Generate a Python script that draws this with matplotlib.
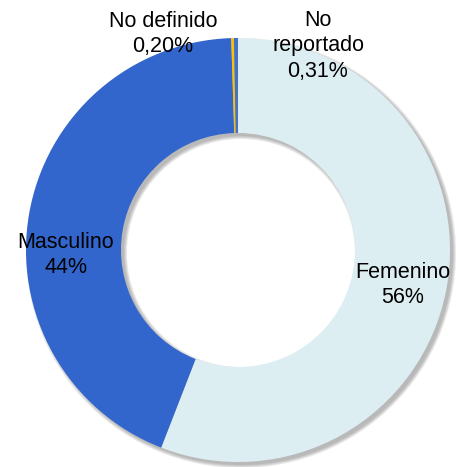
import matplotlib.pyplot as plt

plt.rcParams['font.family'] = ['Liberation Sans', 'DejaVu Sans']

categories = ["Femenino", "Masculino", "No definido", "No reportado"]
values = [55.90, 43.59, 0.20, 0.31]
pct_labels = ["56%", "44%", "0,20%", "0,31%"]
colors = ["#DDEEF3", "#3366CC", "#FFC000", "#4472C4"]

R_OUT = 212
R_IN = 117
CX, CY = 238, 217

fig = plt.figure(figsize=(4.57, 4.67), dpi=100)
ax = fig.add_axes([0, 0, 1, 1])

# blurred drop shadow, offset down-right
for d in [0, 1, 2, 3]:
    ax.pie([1], radius=R_OUT + d, center=(CX + 3, CY - 3), colors=["#555555"],
           wedgeprops=dict(width=R_OUT - R_IN + 2 * d, alpha=0.12, linewidth=0))

ax.pie(values, radius=R_OUT, center=(CX, CY), colors=colors, startangle=90,
       counterclock=False, wedgeprops=dict(width=R_OUT - R_IN, linewidth=0))

# pie() resets the limits, so set them afterwards
ax.set_xlim(0, 457)
ax.set_ylim(0, 467)
ax.set_aspect("equal")
ax.axis("off")

label_pos = {
    "Femenino": (403, 182),
    "Masculino": (66, 212),
    "No definido": (163, 433),
    "No reportado": (318, 421),
}
for cat, pct in zip(categories, pct_labels):
    x, y = label_pos[cat]
    name = "No\nreportado" if cat == "No reportado" else cat
    ax.text(x, y, f"{name}\n{pct}", ha="center", va="center", fontsize=15.5,
            color="black", linespacing=1.28)

fig.savefig("out.png", dpi=100)
